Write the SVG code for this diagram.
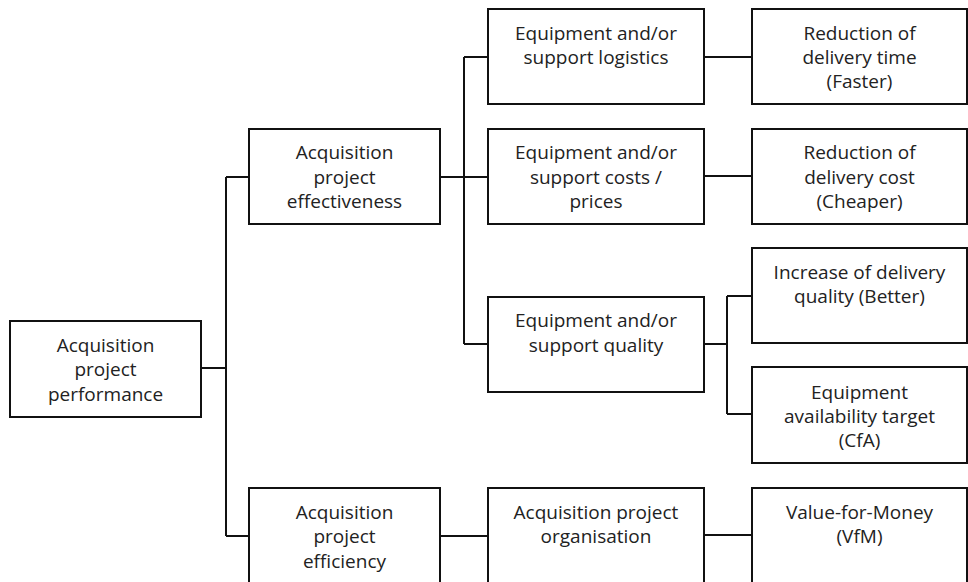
<svg xmlns="http://www.w3.org/2000/svg" width="968" height="582" viewBox="0 0 968 582">
<style>
.box{fill:#fff;stroke:#111;stroke-width:2}
.t{font-family:"Open Sans","Noto Sans",sans-serif;font-size:19px;fill:#222;text-anchor:middle}
.c{fill:none;stroke:#111;stroke-width:2}
</style>
<rect width="968" height="582" fill="#fff"/>
<g id="connectors">
<path class="c" d="M201 368H226M226 177V536M226 177H249M226 536H249"/>
<path class="c" d="M440 177H488M464 57V344M464 57H488M464 344H488"/>
<path class="c" d="M704 57H752M704 176H752"/>
<path class="c" d="M704 344H727M727 296V414M727 296H752M727 414H752"/>
<path class="c" d="M440 536H488M704 535H752"/>
</g>
<g id="n-performance"><rect class="box" x="10" y="321" width="191" height="96"/>
<text class="t" x="105.5" y="352">Acquisition</text><text class="t" x="105.5" y="376">project</text><text class="t" x="105.5" y="401">performance</text></g>
<g id="n-effectiveness"><rect class="box" x="249" y="129" width="191" height="95"/>
<text class="t" x="344.5" y="159">Acquisition</text><text class="t" x="344.5" y="184">project</text><text class="t" x="344.5" y="208">effectiveness</text></g>
<g id="n-efficiency"><rect class="box" x="249" y="488" width="191" height="120"/>
<text class="t" x="344.5" y="519">Acquisition</text><text class="t" x="344.5" y="543">project</text><text class="t" x="344.5" y="568">efficiency</text></g>
<g id="n-logistics"><rect class="box" x="488" y="9" width="216" height="95"/>
<text class="t" x="596" y="40">Equipment and/or</text><text class="t" x="596" y="64">support logistics</text></g>
<g id="n-costs"><rect class="box" x="488" y="129" width="216" height="95"/>
<text class="t" x="596" y="159">Equipment and/or</text><text class="t" x="596" y="184">support costs /</text><text class="t" x="596" y="208">prices</text></g>
<g id="n-quality"><rect class="box" x="488" y="297" width="216" height="95"/>
<text class="t" x="596" y="327">Equipment and/or</text><text class="t" x="596" y="352">support quality</text></g>
<g id="n-organisation"><rect class="box" x="488" y="488" width="216" height="120"/>
<text class="t" x="596" y="519">Acquisition project</text><text class="t" x="596" y="543">organisation</text></g>
<g id="n-faster"><rect class="box" x="752" y="9" width="215" height="95"/>
<text class="t" x="859.5" y="40">Reduction of</text><text class="t" x="859.5" y="64">delivery time</text><text class="t" x="859.5" y="88">(Faster)</text></g>
<g id="n-cheaper"><rect class="box" x="752" y="129" width="215" height="95"/>
<text class="t" x="859.5" y="159">Reduction of</text><text class="t" x="859.5" y="184">delivery cost</text><text class="t" x="859.5" y="208">(Cheaper)</text></g>
<g id="n-better"><rect class="box" x="752" y="248" width="215" height="95"/>
<text class="t" x="859.5" y="279">Increase of delivery</text><text class="t" x="859.5" y="303">quality (Better)</text></g>
<g id="n-cfa"><rect class="box" x="752" y="367" width="215" height="96"/>
<text class="t" x="859.5" y="399">Equipment</text><text class="t" x="859.5" y="423">availability target</text><text class="t" x="859.5" y="447">(CfA)</text></g>
<g id="n-vfm"><rect class="box" x="752" y="488" width="215" height="120"/>
<text class="t" x="859.5" y="519">Value-for-Money</text><text class="t" x="859.5" y="543">(VfM)</text></g>
</svg>
